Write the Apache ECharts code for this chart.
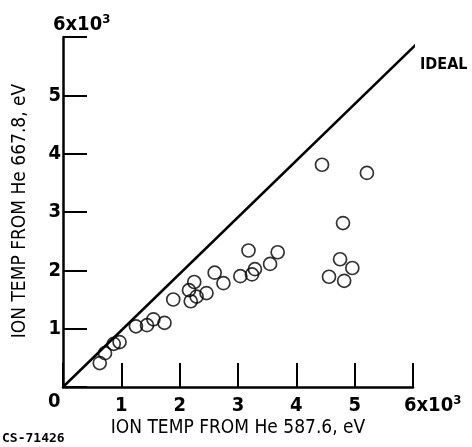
<!DOCTYPE html>
<html lang="en">
<head>
  <meta charset="UTF-8">
  <title>Ion temperature comparison</title>
  <script src="https://cdn.jsdelivr.net/npm/echarts@6/dist/echarts.min.js"></script>
  <style>
    html, body { margin: 0; padding: 0; background: #fff; }
  </style>
</head>
<body>
  <div id="main" style="width: 472px;height:447px;"></div>
  <script>
    // values in units of 10^3 eV
    var measured = [
      [0.63, 0.41], [0.72, 0.58], [0.87, 0.74], [0.97, 0.77],
      [1.25, 1.04], [1.44, 1.06], [1.55, 1.16], [1.74, 1.10],
      [1.89, 1.50], [2.16, 1.66], [2.25, 1.80], [2.19, 1.47],
      [2.29, 1.55], [2.46, 1.61], [2.60, 1.96], [2.75, 1.78],
      [3.04, 1.90], [3.18, 2.34], [3.24, 1.93], [3.29, 2.02],
      [3.55, 2.11], [3.68, 2.31], [4.44, 3.81], [5.21, 3.67],
      [4.80, 2.81], [4.75, 2.19], [4.96, 2.04], [4.56, 1.89],
      [4.82, 1.82]
    ];
    var idealLine = [[0, 0], [6.08, 5.9]];
    var xTickLabels = ['0', '1', '2', '3', '4', '5', '6x10{sup|3}'];
    var yTickLabels = ['', '1', '2', '3', '4', '5', '6x10{sup|3}'];
    var xTitle = 'ION TEMP FROM He 587.6, eV';
    var yTitle = 'ION TEMP FROM He 667.8, eV';
    var figId = 'CS-71426';

    var font = "'DejaVu Sans Condensed', 'Liberation Sans Narrow', sans-serif";
    var supStyle = { fontSize: 13, fontFamily: font, fontWeight: 'bold', verticalAlign: 'bottom', padding: [0, 0, 10, 0], color: '#000' };

    var myChart = echarts.init(document.getElementById('main'));
    var option = {
      backgroundColor: '#fff',
      animation: false,
      grid: { left: 63, right: 59, top: 37, bottom: 60 },
      xAxis: {
        type: 'value', min: 0, max: 6, interval: 1,
        axisLine: { lineStyle: { color: '#000', width: 2.5 } },
        axisTick: { inside: true, length: 24, lineStyle: { color: '#000', width: 2 } },
        splitLine: { show: false },
        axisLabel: {
          color: '#000', fontSize: 20, fontWeight: 'bold', fontFamily: font, margin: 9,
          formatter: function (v) { return (v === 0 || v === 6) ? '' : xTickLabels[v]; }
        }
      },
      yAxis: {
        type: 'value', min: 0, max: 6, interval: 1,
        axisLine: { lineStyle: { color: '#000', width: 2.5 } },
        axisTick: { inside: true, length: 24, lineStyle: { color: '#000', width: 2 } },
        splitLine: { show: false },
        axisLabel: {
          color: '#000', fontSize: 20, fontWeight: 'bold', fontFamily: font, margin: 2,
          formatter: function (v) { return v === 6 ? '' : yTickLabels[v]; }
        }
      },
      graphic: [
        { type: 'text', left: 48, top: 392, style: { text: xTickLabels[0], font: 'bold 20px ' + font, fill: '#000' } },
        {
          type: 'text', left: 404, top: 394,
          style: { text: xTickLabels[6], font: 'bold 20px ' + font, fill: '#000', rich: { sup: supStyle } }
        },
        {
          type: 'text', left: 53, top: 13,
          style: { text: yTickLabels[6], font: 'bold 20px ' + font, fill: '#000', rich: { sup: supStyle } }
        },
        {
          type: 'text', x: 238, y: 428,
          style: { text: xTitle, font: '19px ' + font, fill: '#000', align: 'center', verticalAlign: 'middle' }
        },
        {
          type: 'text', x: 20, y: 211, rotation: Math.PI / 2,
          style: { text: yTitle, font: '19px ' + font, fill: '#000', align: 'center', verticalAlign: 'middle' }
        },
        { type: 'text', left: 2, top: 432, style: { text: figId, font: 'bold 13px monospace', fill: '#000' } }
      ],
      series: [
        {
          type: 'line',
          data: idealLine,
          showSymbol: false,
          lineStyle: { color: '#000', width: 2.5 },
          endLabel: {
            show: true, formatter: 'IDEAL', color: '#000', fontSize: 16,
            fontWeight: 'bold', fontFamily: font, offset: [-3, 19]
          }
        },
        {
          type: 'scatter',
          data: measured,
          symbol: 'circle',
          symbolSize: 13,
          itemStyle: { color: 'rgba(0,0,0,0)', borderColor: '#000', borderWidth: 1.7 }
        }
      ]
    };
    myChart.setOption(option);
  </script>
</body>
</html>
